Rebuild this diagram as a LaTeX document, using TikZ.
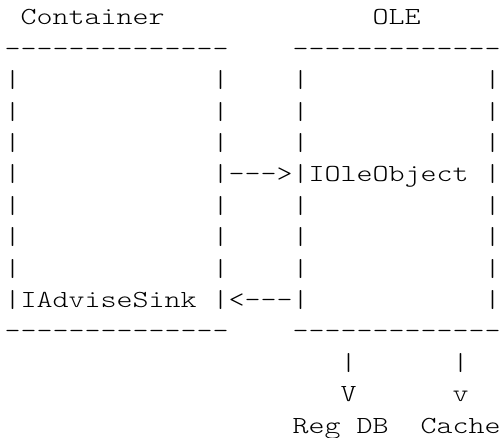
\documentclass[tikz,border=0pt]{standalone}
\usepackage{fontspec}
\setmonofont{lmmonolt10-regular.otf}[FakeStretch=1.244]
\newdimen\charw \charw=16pt
\newcommand\blank[1]{\hspace*{#1\charw}}
\begin{document}
\begin{tikzpicture}[x=1pt,y=1pt,
  asciiline/.style={anchor=base west, inner sep=0pt, outer sep=0pt,
    font=\ttfamily\fontsize{24.5}{31.4}\selectfont, text=black}]
\useasboundingbox[fill=white] (0,0) rectangle (501,438);
\node[asciiline] (l1)  at (4.7,413.0) {\blank{1}Container\blank{13}OLE};
\node[asciiline] (l2)  at (4.7,381.6) {--------------\blank{4}-------------};
\node[asciiline] (l3)  at (4.7,350.2) {|\blank{12}|\blank{4}|\blank{11}|};
\node[asciiline] (l4)  at (4.7,318.8) {|\blank{12}|\blank{4}|\blank{11}|};
\node[asciiline] (l5)  at (4.7,287.4) {|\blank{12}|\blank{4}|\blank{11}|};
\node[asciiline] (l6)  at (4.7,256.0) {|\blank{12}|--->|IOleObject\blank{1}|};
\node[asciiline] (l7)  at (4.7,224.6) {|\blank{12}|\blank{4}|\blank{11}|};
\node[asciiline] (l8)  at (4.7,193.2) {|\blank{12}|\blank{4}|\blank{11}|};
\node[asciiline] (l9)  at (4.7,161.8) {|\blank{12}|\blank{4}|\blank{11}|};
\node[asciiline] (l10) at (4.7,130.4) {|IAdviseSink\blank{1}|<---|\blank{11}|};
\node[asciiline] (l11) at (4.7,99.0)  {--------------\blank{4}-------------};
\node[asciiline] (l12) at (4.7,67.6)  {\blank{21}|\blank{6}|};
\node[asciiline] (l13) at (4.7,36.2)  {\blank{21}V\blank{6}v};
\node[asciiline] (l14) at (4.7,4.8)   {\blank{18}Reg DB\blank{2}Cache};
\end{tikzpicture}
\end{document}
